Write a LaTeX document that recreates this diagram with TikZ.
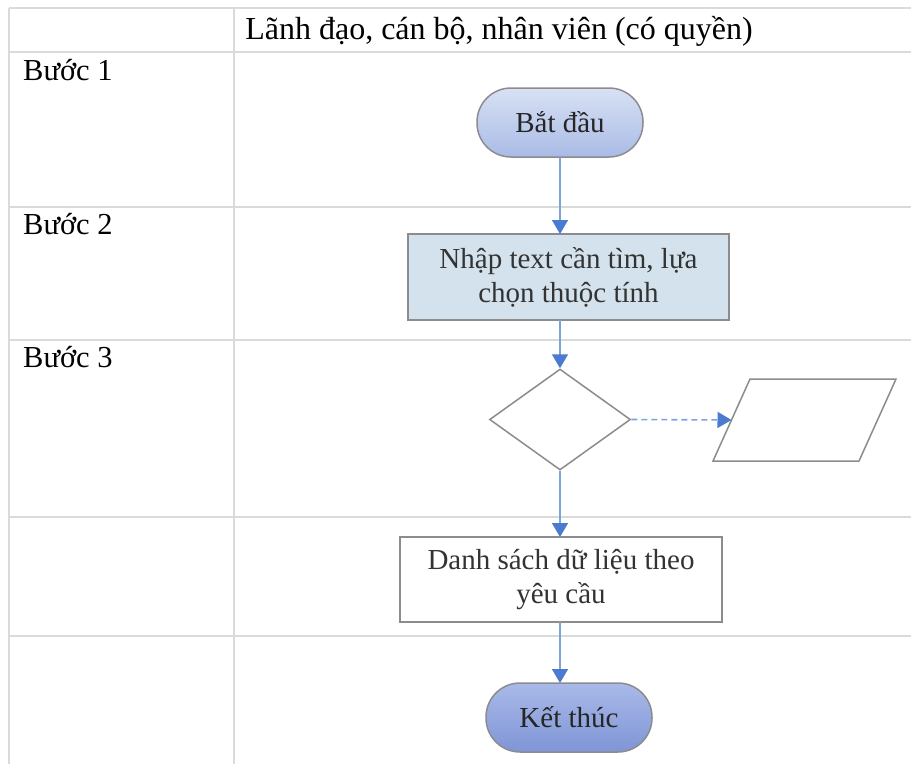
\documentclass[tikz,border=0pt]{standalone}
\usepackage{fontspec}
\setmainfont{Liberation Serif}
\usetikzlibrary{shapes.geometric,arrows.meta}
\definecolor{gridc}{HTML}{DADADA}
\definecolor{shapeb}{HTML}{8C8C8C}
\definecolor{arrc}{HTML}{4A7BD0}
\definecolor{linec}{HTML}{7BA3E0}
\definecolor{boxfill}{HTML}{D3E2EC}
\definecolor{stA}{HTML}{D8E1F4}
\definecolor{stB}{HTML}{A9BBE6}
\definecolor{enA}{HTML}{A9B9E8}
\definecolor{enB}{HTML}{7F95D6}
\tikzset{
  grid/.style={draw=gridc, line width=2.2pt},
  lbl/.style={anchor=north west, inner sep=0pt, font=\fontsize{30.5}{34}\selectfont},
  term/.style={rounded corners=34pt, draw=shapeb, line width=1.5pt, minimum width=166pt, minimum height=69pt, font=\fontsize{29}{34}\selectfont, text=black!85},
  procbox/.style={draw=shapeb, line width=1.5pt, align=center, font=\fontsize{29}{34}\selectfont, text=black!80},
  flow/.style={draw=linec, line width=1.6pt, -{Triangle[length=14pt,width=16pt,color=arrc]}},
  shp/.style={draw=shapeb, line width=1.5pt},
}
\begin{document}
\begin{tikzpicture}[x=1pt,y=-1pt]
\useasboundingbox (0,0) rectangle (911,764);
% table grid
\draw[grid] (9,8) -- (911,8);
\draw[grid] (9,52) -- (911,52);
\draw[grid] (9,207) -- (911,207);
\draw[grid] (9,340) -- (911,340);
\draw[grid] (9,517) -- (911,517);
\draw[grid] (9,636) -- (911,636);
\draw[grid] (9,8) -- (9,764);
\draw[grid] (234,8) -- (234,764);
% labels
\node[inner sep=0pt, font=\fontsize{32}{36}\selectfont] (hdr) at (499,31) {Lãnh đạo, cán bộ, nhân viên (có quyền)};
\node[lbl] (b1) at (23,59) {Bước 1};
\node[lbl] (b2) at (23,213) {Bước 2};
\node[lbl] (b3) at (23,346) {Bước 3};
% nodes
\node[term, top color=stA, bottom color=stB] (start) at (560,122.5) {Bắt đầu};
\node[procbox, fill=boxfill, minimum width=321pt, minimum height=86pt] (input) at (568.5,277) {Nhập text cần tìm, lựa\\chọn thuộc tính};
\node[diamond, shp, fill=white, minimum width=141pt, minimum height=101pt, inner sep=0pt] (dec) at (560,419.5) {};
\draw[shp] (750,379) coordinate (p1) -- (896,379) coordinate (p2) -- (859,461) coordinate (p3) -- (713,461) coordinate (p4) -- cycle;
\coordinate (outin) at (731.5,420);
\node[procbox, fill=white, minimum width=322pt, minimum height=85pt] (res) at (561,579.5) {Danh sách dữ liệu theo\\yêu cầu};
\node[term, top color=enA, bottom color=enB] (end) at (569,717.5) {Kết thúc};
% connectors
\draw[flow] (560,157) -- (560,234);
\draw[flow] (560,320) -- (dec.north);
\draw[flow, dash pattern=on 6pt off 4pt] (dec.east) -- (outin);
\draw[flow] (dec.south) -- (560,537);
\draw[flow] (560,622) -- (560,683);
\end{tikzpicture}
\end{document}
